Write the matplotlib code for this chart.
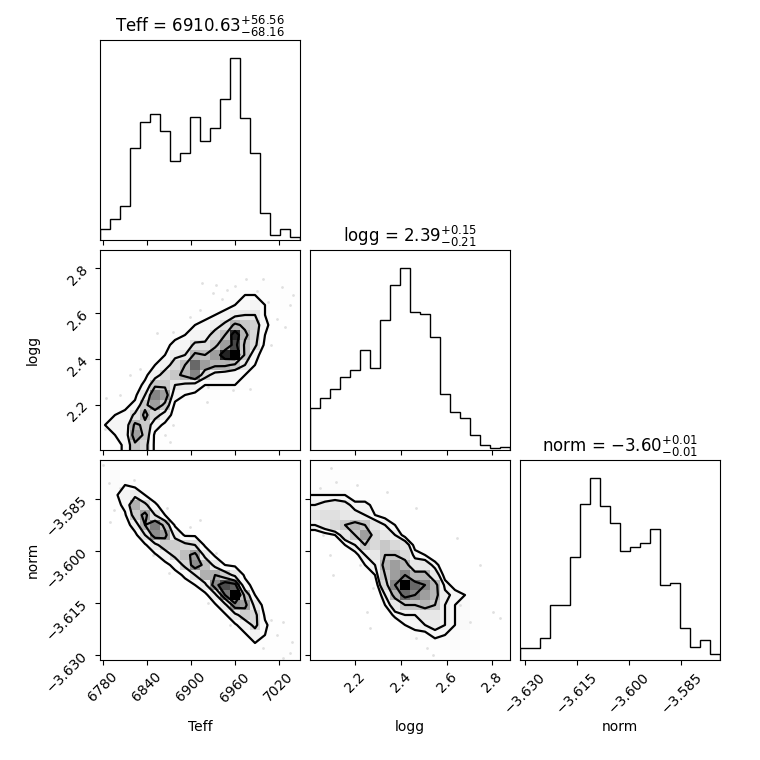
import numpy as np
import matplotlib
matplotlib.use("Agg")
import matplotlib.pyplot as plt
from matplotlib.colors import LinearSegmentedColormap

labels = ["Teff", "logg", "norm"]
titles = [r"Teff = $6910.63_{-68.16}^{+56.56}$",
          r"logg = $2.39_{-0.21}^{+0.15}$",
          r"norm = $-3.60_{-0.01}^{+0.01}$"]
ranges = [(6776.3, 7049.0), (2.001, 2.878), (-3.63144, -3.57386)]
ticks = [[6780, 6840, 6900, 6960, 7020],
         [2.2, 2.4, 2.6, 2.8],
         [-3.630, -3.615, -3.600, -3.585]]
tick_labels = [["6780", "6840", "6900", "6960", "7020"],
               ["2.2", "2.4", "2.6", "2.8"],
               ["\u22123.630", "\u22123.615", "\u22123.600", "\u22123.585"]]

# 1D histograms, 20 bins each
teff_counts = [32, 63, 102, 274, 351, 377, 326, 237, 261, 366,
               297, 334, 421, 543, 363, 261, 81, 15, 33, 8]
logg_counts = [127, 157, 185, 220, 242, 302, 247, 392, 496, 547,
               415, 410, 340, 169, 115, 95, 45, 15, 5, 8]
norm_counts = [35, 35, 66, 166, 166, 309, 466, 544, 462, 410,
               325, 339, 350, 393, 225, 230, 95, 40, 59, 19]

# 2D histograms, rows listed from top (high y) to bottom, columns = x bins
grid_logg_teff = [
    [0, 0, 0, 0, 0, 0, 0, 0, 0, 0, 0, 0, 0, 0, 0, 0, 0, 0, 0, 0],
    [0, 0, 0, 0, 0, 0, 0, 0, 0, 0, 0, 0, 0, 0, 0, 0, 0, 0, 0, 0],
    [0, 0, 0, 0, 0, 0, 0, 0, 0, 0, 0, 0, 0, 0, 0, 0, 0, 0, 1, 0],
    [0, 0, 0, 0, 0, 0, 0, 0, 0, 0, 0, 0, 0, 1, 0, 1, 2, 1, 1, 1],
    [0, 0, 0, 0, 0, 0, 0, 0, 0, 0, 0, 0, 1, 2, 3, 3, 2, 1, 2, 1],
    [0, 0, 0, 0, 0, 0, 0, 0, 0, 0, 1, 1, 1, 3, 4, 5, 3, 1, 2, 0],
    [0, 0, 0, 0, 0, 0, 0, 0, 1, 2, 2, 3, 5, 7, 8, 8, 3, 0, 1, 0],
    [0, 0, 0, 0, 0, 0, 0, 2, 2, 3, 4, 6, 9, 14, 12, 11, 4, 1, 0, 0],
    [0, 0, 0, 0, 0, 0, 2, 2, 3, 5, 6, 10, 13, 24, 14, 10, 3, 1, 0, 0],
    [0, 0, 0, 0, 0, 1, 2, 4, 5, 9, 9, 12, 16, 22, 12, 9, 2, 0, 0, 0],
    [0, 0, 0, 0, 0, 0, 3, 7, 8, 14, 13, 16, 24, 26, 12, 5, 0, 0, 0, 0],
    [0, 0, 0, 0, 0, 3, 6, 10, 13, 20, 16, 14, 14, 12, 8, 3, 0, 0, 0, 0],
    [0, 0, 0, 1, 2, 6, 10, 12, 14, 18, 10, 6, 5, 4, 3, 2, 0, 0, 0, 0],
    [0, 0, 0, 1, 4, 12, 12, 8, 7, 6, 3, 3, 3, 3, 2, 0, 0, 0, 0, 0],
    [0, 1, 1, 2, 8, 18, 16, 5, 3, 2, 2, 2, 1, 0, 0, 0, 0, 0, 0, 0],
    [1, 1, 2, 4, 12, 16, 12, 2, 0, 1, 0, 0, 0, 0, 0, 0, 0, 0, 0, 0],
    [1, 3, 4, 9, 14, 10, 6, 1, 0, 0, 0, 0, 0, 0, 0, 0, 0, 0, 0, 0],
    [3, 5, 5, 14, 12, 5, 2, 1, 0, 0, 0, 0, 0, 0, 0, 0, 0, 0, 0, 0],
    [1, 3, 5, 16, 12, 2, 1, 0, 0, 0, 0, 0, 0, 0, 0, 0, 0, 0, 0, 0],
    [0, 1, 4, 12, 10, 2, 1, 0, 0, 0, 0, 0, 0, 0, 0, 0, 0, 0, 0, 0],
]
grid_norm_teff = [
    [2, 1, 0, 0, 0, 0, 0, 0, 0, 0, 0, 0, 0, 0, 0, 0, 0, 0, 0, 0],
    [3, 4, 1, 0, 0, 0, 0, 0, 0, 0, 0, 0, 0, 0, 0, 0, 0, 0, 0, 0],
    [1, 4, 4, 2, 1, 0, 0, 0, 0, 0, 0, 0, 0, 0, 0, 0, 0, 0, 0, 0],
    [1, 3, 7, 10, 4, 1, 0, 0, 0, 0, 0, 0, 0, 0, 0, 0, 0, 0, 0, 0],
    [0, 1, 6, 20, 14, 5, 1, 0, 0, 0, 0, 0, 0, 0, 0, 0, 0, 0, 0, 0],
    [0, 0, 3, 16, 22, 12, 4, 1, 0, 0, 0, 0, 0, 0, 0, 0, 0, 0, 0, 0],
    [0, 0, 0, 8, 20, 26, 18, 3, 1, 0, 0, 0, 0, 0, 0, 0, 0, 0, 0, 0],
    [0, 0, 0, 2, 12, 24, 22, 10, 3, 3, 0, 0, 0, 0, 0, 0, 0, 0, 0, 0],
    [0, 0, 0, 0, 3, 10, 16, 16, 14, 12, 3, 1, 0, 0, 0, 0, 0, 0, 0, 0],
    [0, 0, 0, 0, 1, 3, 8, 14, 18, 22, 10, 3, 1, 0, 0, 0, 0, 0, 0, 0],
    [0, 0, 0, 0, 0, 1, 2, 6, 14, 24, 18, 10, 4, 3, 0, 0, 0, 0, 0, 0],
    [0, 0, 0, 0, 0, 0, 1, 2, 5, 12, 20, 20, 16, 10, 3, 1, 0, 0, 0, 0],
    [0, 0, 0, 0, 0, 0, 0, 1, 2, 4, 10, 24, 30, 28, 6, 2, 0, 0, 0, 0],
    [0, 0, 0, 0, 0, 0, 0, 0, 1, 1, 2, 10, 26, 36, 18, 4, 1, 0, 0, 0],
    [0, 0, 0, 0, 0, 0, 0, 0, 0, 0, 1, 3, 10, 24, 22, 10, 1, 0, 0, 0],
    [0, 0, 0, 0, 0, 0, 0, 0, 0, 0, 0, 1, 3, 10, 16, 14, 3, 0, 0, 0],
    [0, 0, 0, 0, 0, 0, 0, 0, 0, 0, 0, 0, 1, 3, 8, 14, 5, 1, 0, 0],
    [0, 0, 0, 0, 0, 0, 0, 0, 0, 0, 0, 0, 0, 1, 3, 8, 4, 1, 2, 0],
    [0, 0, 0, 0, 0, 0, 0, 0, 0, 0, 0, 0, 0, 0, 1, 3, 3, 1, 2, 1],
    [0, 0, 0, 0, 0, 0, 0, 0, 0, 0, 0, 0, 0, 0, 0, 0, 2, 1, 3, 1],
]
grid_norm_logg = [
    [0, 0, 0, 0, 0, 0, 0, 0, 0, 0, 0, 0, 0, 0, 0, 0, 0, 0, 0, 0],
    [1, 2, 2, 2, 2, 2, 0, 0, 0, 0, 0, 0, 0, 0, 0, 0, 0, 0, 0, 0],
    [1, 2, 2, 2, 0, 0, 1, 0, 0, 0, 0, 0, 0, 0, 0, 0, 0, 0, 0, 0],
    [4, 4, 4, 4, 2, 2, 1, 0, 0, 1, 0, 0, 0, 0, 0, 0, 0, 0, 0, 0],
    [6, 7, 8, 7, 5, 5, 3, 1, 0, 0, 0, 0, 0, 0, 0, 0, 0, 0, 0, 0],
    [8, 9, 9, 8, 7, 6, 4, 3, 1, 0, 0, 0, 0, 0, 0, 0, 0, 0, 0, 0],
    [6, 8, 10, 12, 14, 12, 8, 6, 4, 1, 0, 0, 0, 0, 0, 0, 0, 0, 0, 0],
    [2, 3, 4, 8, 12, 16, 10, 8, 6, 3, 1, 0, 0, 0, 0, 0, 0, 0, 0, 0],
    [0, 0, 2, 4, 6, 12, 10, 12, 10, 8, 3, 2, 1, 0, 0, 0, 0, 0, 0, 0],
    [0, 0, 0, 2, 3, 6, 8, 12, 12, 10, 5, 4, 2, 1, 0, 0, 0, 0, 0, 0],
    [0, 0, 0, 0, 2, 4, 6, 14, 16, 14, 8, 8, 5, 2, 1, 0, 0, 0, 0, 0],
    [0, 0, 0, 0, 0, 2, 4, 12, 16, 18, 14, 14, 8, 3, 1, 0, 0, 0, 0, 0],
    [0, 0, 0, 0, 0, 0, 2, 10, 18, 26, 20, 18, 14, 5, 3, 2, 0, 1, 0, 0],
    [0, 0, 0, 0, 0, 0, 1, 6, 14, 20, 18, 16, 14, 7, 5, 4, 2, 0, 0, 0],
    [0, 0, 0, 0, 0, 0, 0, 4, 8, 12, 12, 14, 12, 6, 4, 4, 1, 1, 0, 0],
    [0, 0, 0, 0, 0, 0, 0, 1, 5, 6, 6, 8, 8, 6, 4, 3, 2, 1, 0, 0],
    [0, 0, 0, 0, 0, 0, 0, 0, 1, 4, 5, 6, 7, 6, 4, 4, 2, 1, 0, 0],
    [0, 0, 0, 0, 0, 0, 0, 0, 0, 1, 3, 3, 5, 4, 3, 2, 0, 0, 1, 0],
    [0, 0, 0, 0, 0, 0, 0, 0, 0, 0, 1, 1, 2, 2, 3, 2, 2, 0, 0, 1],
    [0, 0, 0, 0, 0, 0, 0, 0, 0, 0, 0, 1, 0, 1, 2, 2, 1, 0, 0, 1],
]

# loose samples outside the contours
pts_lt_teff = [6915, 6935, 6949, 6976, 6999, 7024, 7040, 7035, 7028, 7017, 7010,
               6942, 6913, 6899, 6876, 6854, 6831, 6817, 6804, 6785, 6783, 6865,
               6872, 6924, 6958, 6981, 6922, 6876, 6960, 6990, 7005, 6930]
pts_lt_logg = [2.735, 2.724, 2.702, 2.753, 2.753, 2.716, 2.680, 2.636, 2.541, 2.577, 2.460,
               2.665, 2.614, 2.585, 2.519, 2.512, 2.358, 2.329, 2.241, 2.227, 2.095, 2.066,
               2.037, 2.278, 2.263, 2.270, 2.212, 2.110, 2.720, 2.700, 2.650, 2.690]
pts_nt_teff = [6781, 6788, 6804, 6822, 6808, 6795, 6790, 6867, 6899, 6913, 6935,
               6870, 6849, 6924, 6954, 7010, 7026, 7017, 7038, 7035, 7026, 6999]
pts_nt_norm = [-3.5753, -3.5806, -3.5820, -3.5796, -3.5849, -3.5883, -3.5916, -3.5878,
               -3.5931, -3.5911, -3.6007, -3.6065, -3.6012, -3.6151, -3.6214, -3.6199,
               -3.6204, -3.6242, -3.6262, -3.6295, -3.6310, -3.6281]
pts_nl_logg = [2.095, 2.117, 2.205, 2.044, 2.337, 2.468, 2.059, 2.088, 2.102, 2.219, 2.278,
               2.249, 2.263, 2.468, 2.512, 2.541, 2.658, 2.746, 2.805, 2.702, 2.834, 2.644]
pts_nl_norm = [-3.5763, -3.5801, -3.5811, -3.5820, -3.5830, -3.5878, -3.5954, -3.6012,
               -3.6070, -3.6041, -3.6108, -3.6175, -3.6223, -3.6252, -3.6281, -3.6300,
               -3.6156, -3.6041, -3.6175, -3.6204, -3.6194, -3.5964]

white_cmap = LinearSegmentedColormap.from_list("white_cmap", [(1, 1, 1), (1, 1, 1)], N=2)
density_cmap = LinearSegmentedColormap.from_list("density_cmap", ["k", (1, 1, 1, 0)])


def sigma_levels(C):
    """Contour heights enclosing 0.5, 1, 1.5 and 2 sigma of the mass."""
    levels = 1.0 - np.exp(-0.5 * np.arange(0.5, 2.1, 0.5) ** 2)
    flat = np.sort(C.flatten())[::-1]
    cum = np.cumsum(flat) / flat.sum()
    V = np.empty(len(levels))
    for i, v0 in enumerate(levels):
        below = flat[cum <= v0]
        V[i] = below[-1] if len(below) else flat[0]
    V.sort()
    m = np.diff(V) == 0
    while np.any(m):
        V[np.where(m)[0][0]] *= 1.0 - 1e-4
        m = np.diff(V) == 0
    V.sort()
    return V


def pad_grid(C, xc, yc):
    C2 = C.min() + np.zeros((C.shape[0] + 4, C.shape[1] + 4))
    C2[2:-2, 2:-2] = C
    C2[2:-2, 1] = C[:, 0]
    C2[2:-2, -2] = C[:, -1]
    C2[1, 2:-2] = C[0]
    C2[-2, 2:-2] = C[-1]
    C2[1, 1] = C[0, 0]
    C2[1, -2] = C[0, -1]
    C2[-2, 1] = C[-1, 0]
    C2[-2, -2] = C[-1, -1]
    dx = xc[1] - xc[0]
    dy = yc[1] - yc[0]
    x2 = np.concatenate([xc[0] + np.array([-2, -1]) * dx, xc, xc[-1] + np.array([1, 2]) * dx])
    y2 = np.concatenate([yc[0] + np.array([-2, -1]) * dy, yc, yc[-1] + np.array([1, 2]) * dy])
    return x2, y2, C2


def hist2d(ax, grid, xr, yr, px, py):
    C = np.flipud(np.array(grid, dtype=float))
    xe = np.linspace(xr[0], xr[1], C.shape[1] + 1)
    ye = np.linspace(yr[0], yr[1], C.shape[0] + 1)
    xc = 0.5 * (xe[1:] + xe[:-1])
    yc = 0.5 * (ye[1:] + ye[:-1])
    V = sigma_levels(C)
    x2, y2, C2 = pad_grid(C, xc, yc)
    ax.plot(px, py, "o", color="k", ms=2, mec="none", alpha=0.12, zorder=-1)
    ax.contourf(x2, y2, C2, [V.min(), C.max()], cmap=white_cmap, antialiased=False)
    ax.pcolor(xe, ye, C.max() - C, cmap=density_cmap)
    ax.contour(x2, y2, C2, V, colors="k", linewidths=1.6)
    ax.set_xlim(xr)
    ax.set_ylim(yr)


counts = [teff_counts, logg_counts, norm_counts]
pairs = {(1, 0): (grid_logg_teff, pts_lt_teff, pts_lt_logg),
         (2, 0): (grid_norm_teff, pts_nt_teff, pts_nt_norm),
         (2, 1): (grid_norm_logg, pts_nl_logg, pts_nl_norm)}

fig, axes = plt.subplots(3, 3, figsize=(7.6, 7.6), dpi=100)
fig.subplots_adjust(left=1 / 7.6, bottom=1 / 7.6, right=7.2 / 7.6, top=7.2 / 7.6,
                    wspace=0.05, hspace=0.05)

for i in range(3):
    for j in range(3):
        ax = axes[i, j]
        if j > i:
            ax.set_frame_on(False)
            ax.set_xticks([])
            ax.set_yticks([])
            continue
        if i == j:
            edges = np.linspace(ranges[i][0], ranges[i][1], len(counts[i]) + 1)
            ax.stairs(counts[i], edges, color="k")
            ax.set_xlim(ranges[i])
            ax.set_ylim(0, 1.1 * max(counts[i]))
            ax.set_yticks([])
            ax.set_title(titles[i], fontsize=12)
        else:
            grid, px, py = pairs[(i, j)]
            hist2d(ax, grid, ranges[j], ranges[i], px, py)
            if j == 0:
                ax.set_yticks(ticks[i], tick_labels[i], rotation=45)
                ax.set_ylabel(labels[i])
                ax.yaxis.set_label_coords(-0.3, 0.5)
            else:
                ax.set_yticks(ticks[i], [])
        if i == 2:
            ax.set_xticks(ticks[j], tick_labels[j], rotation=45)
            ax.set_xlabel(labels[j])
            ax.xaxis.set_label_coords(0.5, -0.3)
        else:
            ax.set_xticks(ticks[j], [])

fig.savefig("out.png", dpi=100)
